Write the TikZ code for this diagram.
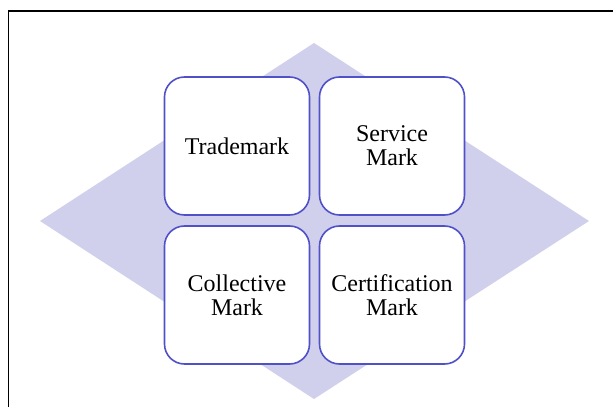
\documentclass[tikz,border=0pt]{standalone}
\usepackage{fontspec}
\setmainfont{Liberation Serif}
\usepackage{tikz}
\usetikzlibrary{positioning}
\definecolor{rim}{RGB}{80,80,200}
\definecolor{lav}{RGB}{208,208,236}

\begin{document}
\begin{tikzpicture}[x=1pt,y=1pt,node distance=149pt and 155pt,on grid,
		markbox/.style={rectangle,rounded corners=20pt,draw=rim,line width=1.6pt,fill=white,
			minimum width=145pt,minimum height=138pt,align=center,
			font=\fontsize{24}{24}\selectfont}]
		\useasboundingbox (0,0) rectangle (613,407);
		% frame and diamond behind the boxes
		\draw[line width=1.5pt] (8.5,0) -- (8.5,396) -- (613,396);
		\fill[lav] (40,186) -- (314,364) -- (589,186) -- (314,8) -- cycle;
		
		\node[markbox] (tm) at (237,261)   {Trademark};
		\node[markbox] (sm) [right=of tm]  {Service\\Mark};
		\node[markbox] (cm) [below=of tm]  {Collective\\Mark};
		\node[markbox] (cf) [right=of cm]  {Certification\\Mark};
		\end{tikzpicture}
\end{document}
